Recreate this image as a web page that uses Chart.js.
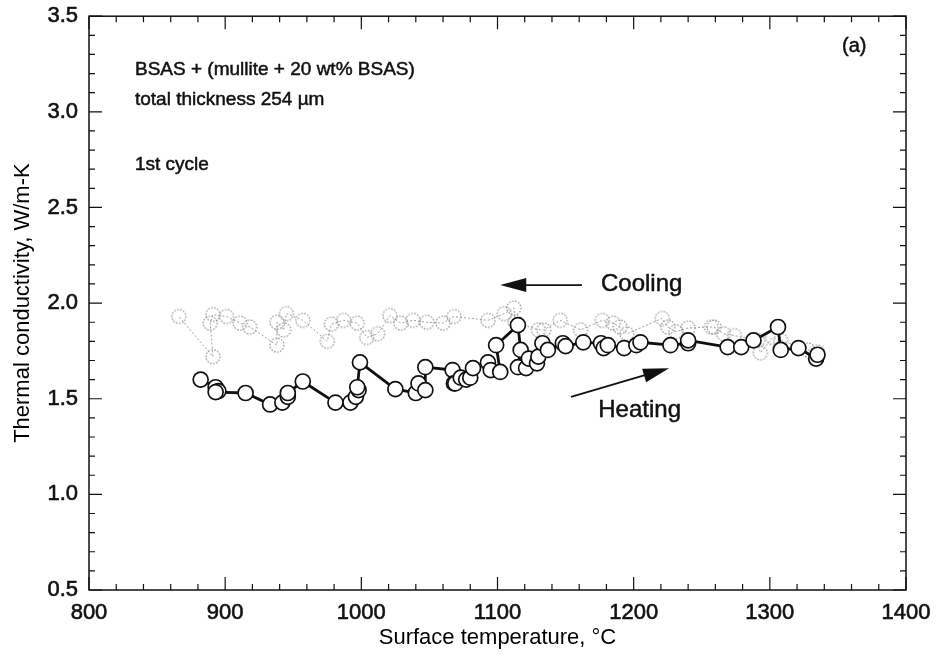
<!DOCTYPE html>
<html>
<head>
<meta charset="utf-8">
<script src="https://cdn.jsdelivr.net/npm/chart.js@4.4.1/dist/chart.umd.min.js"></script>
<style>
  html, body { margin: 0; padding: 0; background: #fff; }
  #wrap { width: 940px; height: 656px; }
</style>
</head>
<body>
<div id="wrap"><canvas id="kChart" width="940" height="656"></canvas></div>
<script>
// Axis ticks
const xTicks = [800, 900, 1000, 1100, 1200, 1300, 1400];
const yTicks = [0.5, 1.0, 1.5, 2.0, 2.5, 3.0, 3.5];

// Heating run (surface temperature, degC / thermal conductivity, W/m-K)
const heatTemp = [882, 893, 895, 893, 915, 933, 942, 946, 946, 957, 981, 992, 996, 998, 997, 999,
  1025, 1040, 1042, 1047, 1047, 1067, 1068, 1069, 1073, 1077, 1080, 1082, 1093, 1095, 1102, 1099,
  1115, 1117, 1115, 1121, 1123, 1129, 1130, 1133, 1137, 1148, 1150, 1163, 1176, 1178, 1181, 1193,
  1202, 1205, 1227, 1240, 1240, 1269, 1279, 1288, 1306, 1308, 1321, 1334, 1335];
const heatK = [1.60, 1.56, 1.54, 1.535, 1.53, 1.47, 1.48, 1.51, 1.53, 1.59, 1.48, 1.48, 1.51, 1.545, 1.56, 1.69,
  1.55, 1.53, 1.58, 1.545, 1.665, 1.65, 1.58, 1.58, 1.61, 1.60, 1.61, 1.66, 1.69, 1.65, 1.64, 1.78,
  1.885, 1.755, 1.665, 1.66, 1.71, 1.685, 1.72, 1.79, 1.755, 1.79, 1.775, 1.795, 1.79, 1.765, 1.78, 1.765,
  1.78, 1.795, 1.78, 1.79, 1.805, 1.77, 1.77, 1.805, 1.875, 1.755, 1.765, 1.71, 1.73];

// Cooling run, from the highest temperature back down
const coolTemp = [1335, 1328, 1308, 1302, 1293, 1291, 1274, 1266, 1259, 1257, 1240, 1231, 1225, 1221,
  1195, 1190, 1185, 1177, 1161, 1146, 1134, 1130, 1113, 1112, 1105, 1093, 1068, 1060, 1048, 1038,
  1029, 1021, 1012, 1004, 997, 987, 978, 975, 957, 945, 943, 938, 938, 918, 911, 901, 891, 889, 891, 866];
const coolK = [1.745, 1.755, 1.805, 1.82, 1.74, 1.805, 1.83, 1.84, 1.875, 1.875, 1.87, 1.85, 1.875, 1.92,
  1.84, 1.875, 1.895, 1.91, 1.86, 1.91, 1.86, 1.86, 1.90, 1.975, 1.945, 1.91, 1.93, 1.895, 1.90, 1.91,
  1.895, 1.935, 1.84, 1.82, 1.895, 1.91, 1.89, 1.80, 1.91, 1.945, 1.86, 1.90, 1.78, 1.875, 1.895, 1.93,
  1.94, 1.895, 1.72, 1.93];

const FONT = 'Liberation Sans, Arial, Helvetica, sans-serif';

// dotted grey ring used as the cooling marker
function dottedRing(r) {
  const c = document.createElement('canvas');
  const s = r * 2 + 4;
  c.width = s; c.height = s;
  const g = c.getContext('2d');
  g.strokeStyle = '#8c8c8c';
  g.lineWidth = 1.2;
  g.setLineDash([1.5, 1.6]);
  g.beginPath();
  g.arc(s / 2, s / 2, r, 0, Math.PI * 2);
  g.stroke();
  return c;
}

function pairs(xs, ys) {
  return xs.map((x, i) => ({ x: x, y: ys[i] }));
}

// text with a thin outline so it reads as heavy as the printed labels
function heavyText(ctx, s, x, y) {
  ctx.fillText(s, x, y);
  ctx.strokeText(s, x, y);
}

// frame with inward ticks on all four sides, plus the text notes and arrows
const framePlugin = {
  id: 'frame',
  afterDatasetsDraw(chart) {
    const ctx = chart.ctx;
    const a = chart.chartArea;
    const xs = chart.scales.x, ys = chart.scales.y;
    ctx.save();
    ctx.strokeStyle = '#111';
    ctx.lineWidth = 1.5;
    ctx.strokeRect(a.left, a.top, a.right - a.left, a.bottom - a.top);
    ctx.lineWidth = 1.2;
    ctx.beginPath();
    for (let v = 800; v <= 1400; v += 20) {
      const px = xs.getPixelForValue(v);
      const len = v % 100 === 0 ? 13 : 6;
      ctx.moveTo(px, a.bottom); ctx.lineTo(px, a.bottom - len);
      ctx.moveTo(px, a.top); ctx.lineTo(px, a.top + len);
    }
    for (let i = 5; i <= 35; i++) {
      const v = i / 10;
      const py = ys.getPixelForValue(v);
      const len = i % 5 === 0 ? 13 : 6;
      ctx.moveTo(a.left, py); ctx.lineTo(a.left + len, py);
      ctx.moveTo(a.right, py); ctx.lineTo(a.right - len, py);
    }
    ctx.stroke();

    // notes
    ctx.fillStyle = '#111';
    ctx.strokeStyle = '#111';
    ctx.lineWidth = 0.5;
    ctx.font = '19px ' + FONT;
    ctx.textBaseline = 'middle';
    ctx.textAlign = 'left';
    heavyText(ctx, 'BSAS + (mullite + 20 wt% BSAS)', 135, 70);
    heavyText(ctx, 'total thickness 254 \u00b5m', 135, 100);
    heavyText(ctx, '1st cycle', 135, 165);
    ctx.font = '20px ' + FONT;
    heavyText(ctx, '(a)', 842, 46);

    const P = (x, y) => [xs.getPixelForValue(x), ys.getPixelForValue(y)];
    const arrow = (x0, y0, x1, y1) => {
      const [ax, ay] = P(x0, y0), [bx, by] = P(x1, y1);
      const ang = Math.atan2(by - ay, bx - ax);
      const hl = 26, hw = 7;
      ctx.lineWidth = 1.8;
      ctx.beginPath();
      ctx.moveTo(ax, ay);
      ctx.lineTo(bx - Math.cos(ang) * hl * 0.8, by - Math.sin(ang) * hl * 0.8);
      ctx.stroke();
      ctx.beginPath();
      ctx.moveTo(bx, by);
      ctx.lineTo(bx - Math.cos(ang) * hl - Math.sin(ang) * hw, by - Math.sin(ang) * hl + Math.cos(ang) * hw);
      ctx.lineTo(bx - Math.cos(ang) * hl + Math.sin(ang) * hw, by - Math.sin(ang) * hl - Math.cos(ang) * hw);
      ctx.closePath();
      ctx.fill();
    };
    arrow(1162, 2.094, 1102, 2.094);
    arrow(1154, 1.51, 1226, 1.66);

    ctx.lineWidth = 0.5;
    ctx.font = '24px ' + FONT;
    const [cx, cy] = P(1176, 2.10);
    heavyText(ctx, 'Cooling', cx, cy);
    const [hx, hy] = P(1174, 1.44);
    heavyText(ctx, 'Heating', hx, hy);
    ctx.restore();
  }
};

new Chart(document.getElementById('kChart').getContext('2d'), {
  type: 'scatter',
  data: {
    datasets: [
      {
        label: 'Heating',
        data: pairs(heatTemp, heatK),
        showLine: true,
        borderColor: '#111',
        borderWidth: 2.8,
        pointRadius: 7.5,
        pointBackgroundColor: '#fff',
        pointBorderColor: '#111',
        pointBorderWidth: 1.7,
        order: 0
      },
      {
        label: 'Cooling',
        data: pairs(coolTemp, coolK),
        showLine: true,
        borderColor: '#a0a0a0',
        borderWidth: 1,
        borderDash: [2, 2],
        pointStyle: dottedRing(7),
        order: 1
      }
    ]
  },
  options: {
    responsive: false,
    animation: false,
    layout: { padding: { left: 8, top: 16, right: 34, bottom: 3 } },
    plugins: { legend: { display: false }, tooltip: { enabled: false } },
    scales: {
      x: {
        type: 'linear',
        min: 800, max: 1400,
        afterBuildTicks: (s) => { s.ticks = xTicks.map(v => ({ value: v })); },
        afterFit: (s) => { s.height = 63; },
        grid: { display: false },
        border: { display: false },
        ticks: {
          color: '#111', padding: 2, maxRotation: 0,
          textStrokeColor: '#111', textStrokeWidth: 0.6,
          font: { family: FONT, size: 22 },
          callback: (v) => String(v)
        },
        title: { display: true, text: 'Surface temperature, \u00b0C', color: '#000', padding: { top: 0, bottom: 2 }, font: { family: FONT, size: 22 } }
      },
      y: {
        type: 'linear',
        min: 0.5, max: 3.5,
        afterBuildTicks: (s) => { s.ticks = yTicks.map(v => ({ value: v })); },
        afterFit: (s) => { s.width = 81; },
        grid: { display: false },
        border: { display: false },
        ticks: {
          color: '#111', padding: 3,
          textStrokeColor: '#111', textStrokeWidth: 0.6,
          font: { family: FONT, size: 22 },
          callback: (v) => v.toFixed(1)
        },
        title: { display: true, text: 'Thermal conductivity, W/m-K', color: '#000', padding: { top: 2, bottom: 0 }, font: { family: FONT, size: 22 } }
      }
    }
  },
  plugins: [framePlugin]
});
</script>
</body>
</html>
